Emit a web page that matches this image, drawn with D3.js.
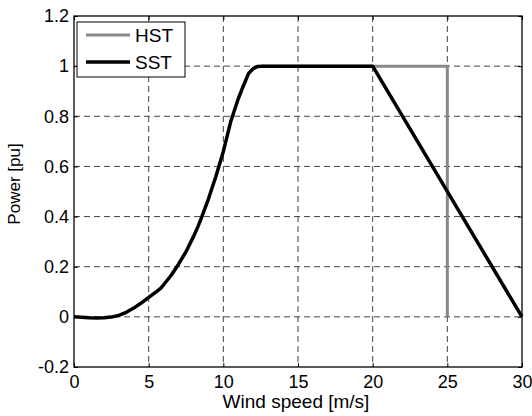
<!DOCTYPE html>
<html><head><meta charset="utf-8">
<script src="https://cdn.jsdelivr.net/npm/d3@7"></script>
<style>body{margin:0;background:#fff}text{font-family:"Liberation Sans",Arial,sans-serif}</style>
</head><body><svg id="c" width="532" height="416"></svg>
<script>
const xTicks = [0,5,10,15,20,25,30];
const yTicks = [-0.2,0,0.2,0.4,0.6,0.8,1,1.2];
const yTickLabels = ["-0.2","0","0.2","0.4","0.6","0.8","1","1.2"];
const sstWind = [0,0.5,1,1.5,2,2.5,3,3.5,4,4.5,5,5.5,5.8,6,6.5,7,7.5,8,8.3,8.5,9,9.5,10,10.5,11,11.3,11.7,12,12.3,12.6,20,30];
const sstPower = [0,-0.002,-0.004,-0.005,-0.004,-0.001,0.006,0.018,0.035,0.055,0.078,0.1,0.114,0.128,0.165,0.21,0.26,0.32,0.36,0.39,0.47,0.56,0.66,0.78,0.87,0.915,0.972,0.99,0.999,1,1,0];
const hstWind = [12.6,20,25,25];
const hstPower = [1,1,1,0];
const seriesNames = ["HST","SST"];

const svg = d3.select("#c");
const L=74,R=522,T=16,B=367;
const x = d3.scaleLinear().domain([0,30]).range([L,R]);
const y = d3.scaleLinear().domain([-0.2,1.2]).range([B,T]);

const g = svg.append("g");
g.selectAll(".gx").data(xTicks.slice(1,-1)).enter().append("line")
 .attr("x1",d=>x(d)).attr("x2",d=>x(d)).attr("y1",T).attr("y2",B)
 .attr("stroke","#444").attr("stroke-dasharray","6,4").attr("stroke-width",1);
g.selectAll(".gy").data(yTicks.slice(1,-1)).enter().append("line")
 .attr("y1",d=>y(d)).attr("y2",d=>y(d)).attr("x1",L).attr("x2",R)
 .attr("stroke","#444").attr("stroke-dasharray","6,4").attr("stroke-width",1);

const ax = svg.append("g").attr("transform",`translate(0,${B})`)
 .call(d3.axisBottom(x).tickValues(xTicks).tickSize(-4).tickPadding(8));
const ay = svg.append("g").attr("transform",`translate(${L},0)`)
 .call(d3.axisLeft(y).tickValues(yTicks).tickFormat((d,i)=>yTickLabels[i]).tickSize(-4).tickPadding(5));
const at = svg.append("g").attr("transform",`translate(0,${T})`)
 .call(d3.axisTop(x).tickValues(xTicks).tickSize(-4).tickFormat(""));
const ar = svg.append("g").attr("transform",`translate(${R},0)`)
 .call(d3.axisRight(y).tickValues(yTicks).tickSize(-4).tickFormat(""));
[ax,ay,at,ar].forEach(a=>{
  a.selectAll("path").remove();
  a.selectAll("line").attr("stroke","#000");
  a.selectAll("text").attr("font-size",18).attr("fill","#000").style("font-family","Liberation Sans, Arial, sans-serif");
});
svg.append("rect").attr("x",L).attr("y",T).attr("width",R-L).attr("height",B-T)
 .attr("fill","none").attr("stroke","#000").attr("stroke-width",1.3);

const line = d3.line().x(d=>x(d[0])).y(d=>y(d[1]));
const hst = d3.zip(hstWind,hstPower);
const sst = d3.zip(sstWind,sstPower);
svg.append("path").attr("d",line(hst)).attr("fill","none").attr("stroke","#888").attr("stroke-width",3);
svg.append("path").attr("d",line(sst)).attr("fill","none").attr("stroke","#000").attr("stroke-width",3.5).attr("stroke-linejoin","round");

svg.append("text").attr("x",296).attr("y",408).attr("text-anchor","middle").attr("font-size",19).text("Wind speed [m/s]");
svg.append("text").attr("transform","translate(20,184) rotate(-90)").attr("text-anchor","middle").attr("font-size",17).text("Power [pu]");

const lg = svg.append("g");
lg.append("rect").attr("x",77).attr("y",22).attr("width",108).attr("height",55).attr("fill","#fff").attr("stroke","#000").attr("stroke-width",1);
const colors=["#888","#000"];
seriesNames.forEach((n,i)=>{
  const yy = 35+i*27;
  lg.append("line").attr("x1",86).attr("x2",130).attr("y1",yy).attr("y2",yy).attr("stroke",colors[i]).attr("stroke-width",i?3.5:3);
  lg.append("text").attr("x",135).attr("y",yy+7).attr("font-size",19).text(n);
});
</script></body></html>
